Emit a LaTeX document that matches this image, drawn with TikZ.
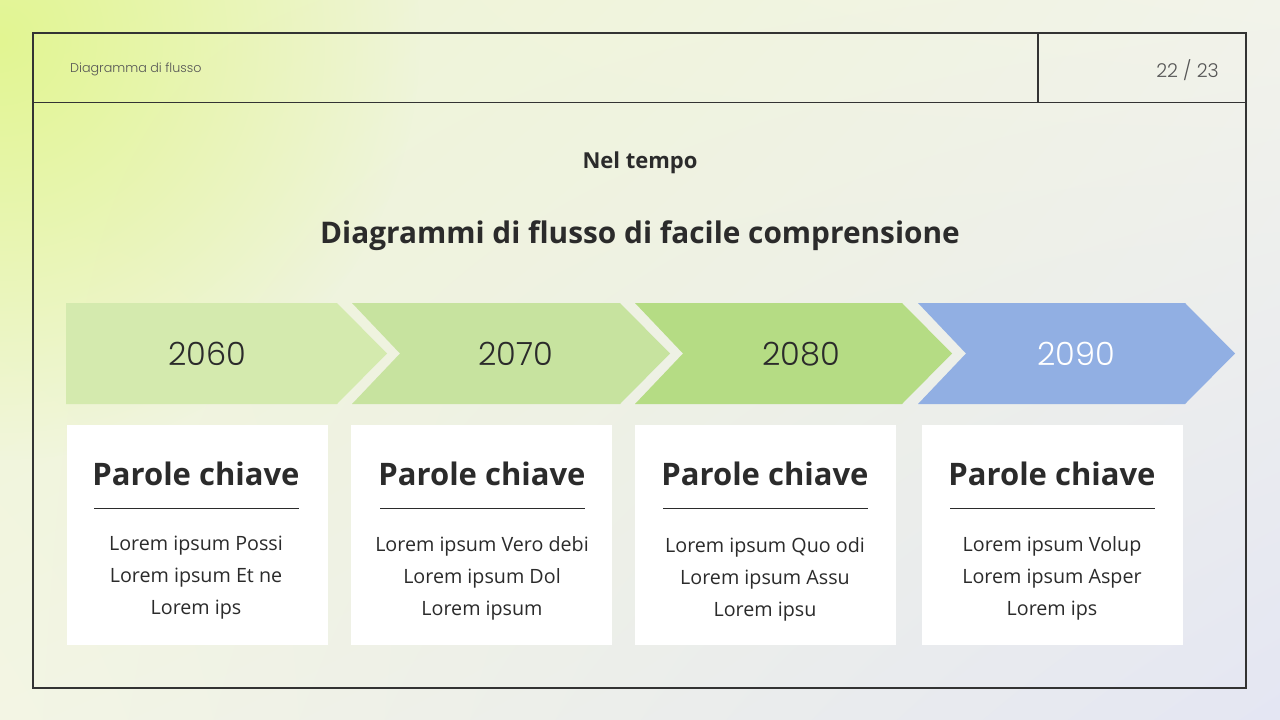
\documentclass[tikz,border=0pt]{standalone}
\usepackage{fontspec}
\setmainfont{Open Sans}
\newfontfamily\lightfont{Poppins}[UprightFont=* Light]
\usetikzlibrary{positioning,shadings,fadings}
\definecolor{bgUL}{HTML}{EEF5D0}
\definecolor{bgUR}{HTML}{F2F3EA}
\definecolor{bgLL}{HTML}{F3F5E4}
\definecolor{bgLR}{HTML}{E4E6F3}
\definecolor{bgY}{HTML}{E2F592}
\definecolor{frameC}{HTML}{333333}
\definecolor{txt}{HTML}{2B2B2B}
\definecolor{grayT}{HTML}{555555}
\definecolor{arA}{HTML}{D4EAAE}
\definecolor{arB}{HTML}{C7E39F}
\definecolor{arC}{HTML}{B5DC84}
\definecolor{arD}{HTML}{91AFE3}
\tikzfading[name=glow, inner color=transparent!0, outer color=transparent!100]
\tikzset{
  frameline/.style={draw=frameC, line width=1.2pt},
  yeartext/.style={font=\lightfont\fontsize{32}{36}\selectfont, text=txt, inner sep=0pt},
  card/.style={fill=white, draw=none},
  cardhead/.style={font=\fontsize{31}{36}\selectfont\bfseries, text=txt, inner sep=0pt},
  cardbody/.style={font=\fontsize{19.7}{32}\selectfont, text=txt, align=center, inner sep=0pt},
  rulel/.style={draw=txt, line width=1pt}
}
\begin{document}
\begin{tikzpicture}[x=1pt,y=-1pt]
\useasboundingbox (0,0) rectangle (1280,720);
\shade[upper left=bgUL, upper right=bgUR, lower left=bgLL, lower right=bgLR] (0,0) rectangle (1280,720);
\begin{scope}
\clip (0,0) rectangle (1280,720);
\fill[bgY, path fading=glow] (0,40) circle (420);
\end{scope}
% frame
\draw[frameline] (33,33) rectangle (1246,688);
\draw[frameline] (33,102.5) -- (1246,102.5);
\draw[frameline] (1038,33) -- (1038,102.5);
\node[font=\lightfont\fontsize{12.7}{16}\selectfont, text=grayT, anchor=west, inner sep=0pt] (hdr) at (70,69.5) {Diagramma di flusso};
\node[font=\lightfont\fontsize{19}{22}\selectfont, text=grayT, anchor=east, inner sep=0pt] (pg) at (1219,70) {22 / 23};
% titles
\node[font=\fontsize{22}{26}\selectfont\bfseries, text=txt, inner sep=0pt] (sub) at (640,163) {Nel tempo};
\node[font=\fontsize{29.8}{34}\selectfont\bfseries, text=txt, inner sep=0pt] (ttl) at (640,236) {Diagrammi di flusso di facile comprensione};
% arrows
\fill[arA] (66,303) -- (337,303) -- (387,353.5) -- (337,404) -- (66,404) -- cycle;
\fill[arB] (352,303) -- (620,303) -- (670,353.5) -- (620,404) -- (352,404) -- (400,353.5) -- cycle;
\fill[arC] (635,303) -- (902,303) -- (952,353.5) -- (902,404) -- (635,404) -- (683,353.5) -- cycle;
\fill[arD] (918,303) -- (1185,303) -- (1235,353.5) -- (1185,404) -- (918,404) -- (966,353.5) -- cycle;
\node[yeartext] (y1) at (207,354) {2060};
\node[yeartext] (y2) at (516,354) {2070};
\node[yeartext] (y3) at (801,354) {2080};
\node[yeartext, text=white] (y4) at (1076,354) {2090};
% cards
\foreach \i/\l/\r/\hx/\ra/\rb/\la/\lb/\lc/\dy in {
  1/67/328/196/94/299/{Lorem ipsum Possi}/{Lorem ipsum Et ne}/{Lorem ips}/0,
  2/351/612/482/380/585/{Lorem ipsum Vero debi}/{Lorem ipsum Dol}/{Lorem ipsum}/0,
  3/635/896/765/663/868/{Lorem ipsum Quo odi}/{Lorem ipsum Assu}/{Lorem ipsu}/1,
  4/922/1183/1052/950/1155/{Lorem ipsum Volup}/{Lorem ipsum Asper}/{Lorem ips}/0}{
  \fill[card] (\l,425) rectangle (\r,645);
  \node[cardhead] (h\i) at (\hx,474) {Parole chiave};
  \coordinate (ra\i) at (\ra,508);
  \coordinate (rb\i) at (\rb,508);
  \draw[rulel] (ra\i) -- (rb\i);
  \node[cardbody] (b\i) at (\hx,578+\dy) {\la\\\lb\\\lc};
}
\end{tikzpicture}
\end{document}
